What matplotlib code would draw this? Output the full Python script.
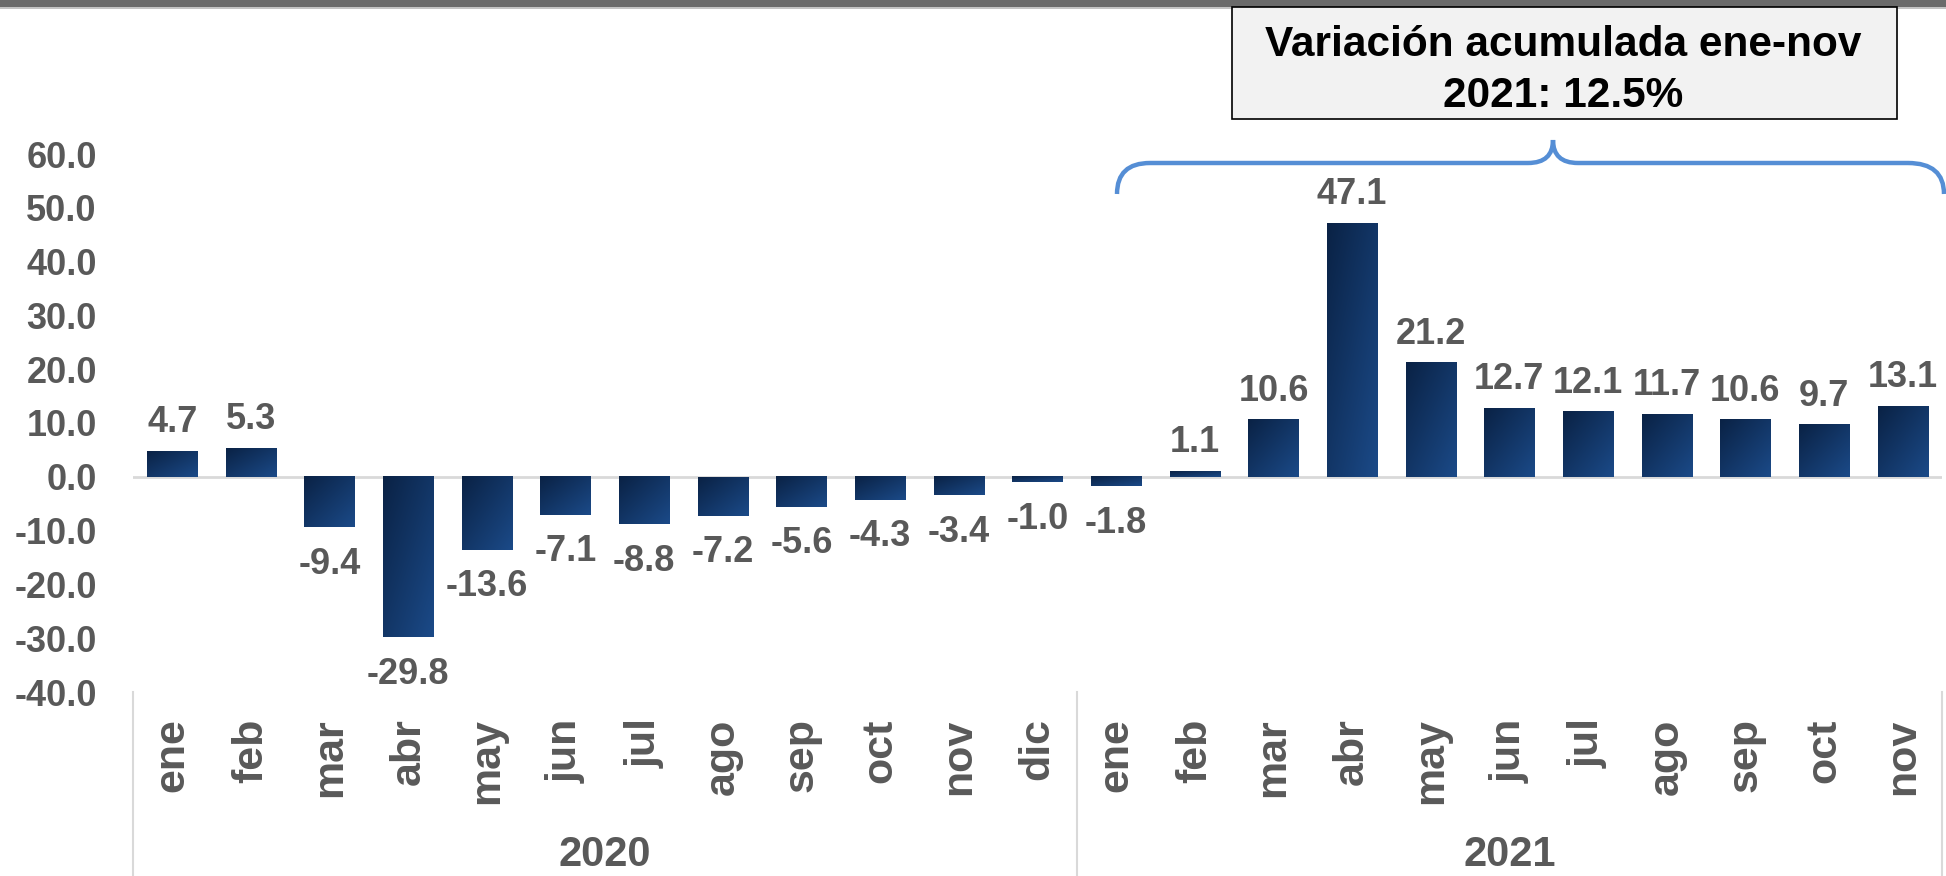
import matplotlib
matplotlib.use('Agg')
import matplotlib.pyplot as plt
import numpy as np
from matplotlib.colors import LinearSegmentedColormap
from matplotlib.patches import Rectangle, PathPatch
from matplotlib.path import Path

### DATA
months = ['ene', 'feb', 'mar', 'abr', 'may', 'jun', 'jul', 'ago', 'sep', 'oct', 'nov', 'dic',
          'ene', 'feb', 'mar', 'abr', 'may', 'jun', 'jul', 'ago', 'sep', 'oct', 'nov']
years = ['2020', '2021']
year_counts = [12, 11]
values = [4.7, 5.3, -9.4, -29.8, -13.6, -7.1, -8.8, -7.2, -5.6, -4.3, -3.4, -1.0,
          -1.8, 1.1, 10.6, 47.1, 21.2, 12.7, 12.1, 11.7, 10.6, 9.7, 13.1]
y_ticks = [-40, -30, -20, -10, 0, 10, 20, 30, 40, 50, 60]
note_lines = ['Variación acumulada ene-nov', '2021: 12.5%']

plt.rcParams['font.family'] = ['Liberation Sans', 'DejaVu Sans']
plt.rcParams['font.weight'] = 'bold'
gray = '#595959'
light = '#D9D9D9'

W, H = 1946, 876
fig = plt.figure(figsize=(W / 100, H / 100), dpi=100)


def fx(px):
    return px / W


def fy(py):
    # pixel from top -> figure fraction
    return 1 - py / H


ax = fig.add_axes([fx(133), fy(692), fx(1942 - 133), (692 - 154) / H])

x = np.arange(len(values))
bars = ax.bar(x, values, width=0.64, color='#143C6E', zorder=2)

### GRADIENT FILL ON BARS
cmap = LinearSegmentedColormap.from_list('navy', ['#0A2245', '#1B4A88'])
n = 64
u = np.linspace(0, 1, n)
uu, vv = np.meshgrid(u, u)
grad = (uu + (1 - vv)) / 2
for b in bars:
    x0, w = b.get_x(), b.get_width()
    y0, y1 = sorted([b.get_y(), b.get_y() + b.get_height()])
    ax.imshow(grad, cmap=cmap, extent=[x0, x0 + w, y0, y1], origin='lower',
              aspect='auto', zorder=3, interpolation='bilinear')

ax.axhline(0, color=light, lw=2, zorder=1)
ax.set_xlim(-0.5, len(values) - 0.5)
ax.set_ylim(-40, 60)

for s in ax.spines.values():
    s.set_visible(False)

ax.set_yticks(y_ticks, [f'{v:.1f}' for v in y_ticks])
ax.set_xticks(x, months, rotation=90)
ax.tick_params(axis='y', length=0, pad=26, labelsize=26, labelcolor=gray)
ax.tick_params(axis='x', length=0, pad=19, labelsize=31, labelcolor=gray)

### VALUE LABELS
for xi, v in zip(x, values):
    if v >= 0:
        ax.annotate(f'{v:.1f}', (xi, v), xytext=(0, 8), textcoords='offset points',
                    ha='center', va='bottom', fontsize=26, color=gray, zorder=4)
    else:
        ax.annotate(f'{v:.1f}', (xi, v), xytext=(0, -14), textcoords='offset points',
                    ha='center', va='top', fontsize=26, color=gray, zorder=4)

### YEAR GROUPS
tr = ax.get_xaxis_transform()
bottom_ax = (692 - H) / (692 - 154)
start = -0.5
edges = [start]
for name, cnt in zip(years, year_counts):
    ax.text(start + cnt / 2, (692 - 855) / (692 - 154), name, transform=tr,
            ha='center', va='center', fontsize=30, color=gray)
    start += cnt
    edges.append(start)
for e in edges:
    ax.plot([e, e], [0, bottom_ax], transform=tr, color=light, lw=1.5, clip_on=False)

### TOP BAND
fig.add_artist(Rectangle((0, fy(7)), 1, 7 / H, transform=fig.transFigure,
                         facecolor='#6B6B6B', edgecolor='none'))
fig.add_artist(Rectangle((0, fy(9)), 1, 2 / H, transform=fig.transFigure,
                         facecolor='#C4C4C4', edgecolor='none'))

### NOTE BOX
fig.add_artist(Rectangle((fx(1232), fy(119)), fx(1897 - 1232), (119 - 7) / H,
                         transform=fig.transFigure, facecolor='#F2F2F2',
                         edgecolor='black', lw=1.2))
fig.text(fx(1563), fy(56), note_lines[0], ha='center', va='baseline',
         fontsize=30.5, color='black')
fig.text(fx(1563), fy(107), note_lines[1], ha='center', va='baseline',
         fontsize=30.5, color='black')

### BRACKET
pts = [(1117, 194), (1117, 163), (1150, 163),
       (1528, 163),
       (1553, 163), (1553, 140),
       (1553, 163), (1578, 163),
       (1908, 163),
       (1944, 163), (1944, 194)]
codes = [Path.MOVETO, Path.CURVE3, Path.CURVE3,
         Path.LINETO,
         Path.CURVE3, Path.CURVE3,
         Path.CURVE3, Path.CURVE3,
         Path.LINETO,
         Path.CURVE3, Path.CURVE3]
path = Path([(fx(a), fy(b)) for a, b in pts], codes)
fig.add_artist(PathPatch(path, transform=fig.transFigure, facecolor='none',
                         edgecolor='#558ED5', lw=3.2, capstyle='butt'))

fig.savefig('out.png', dpi=100)
